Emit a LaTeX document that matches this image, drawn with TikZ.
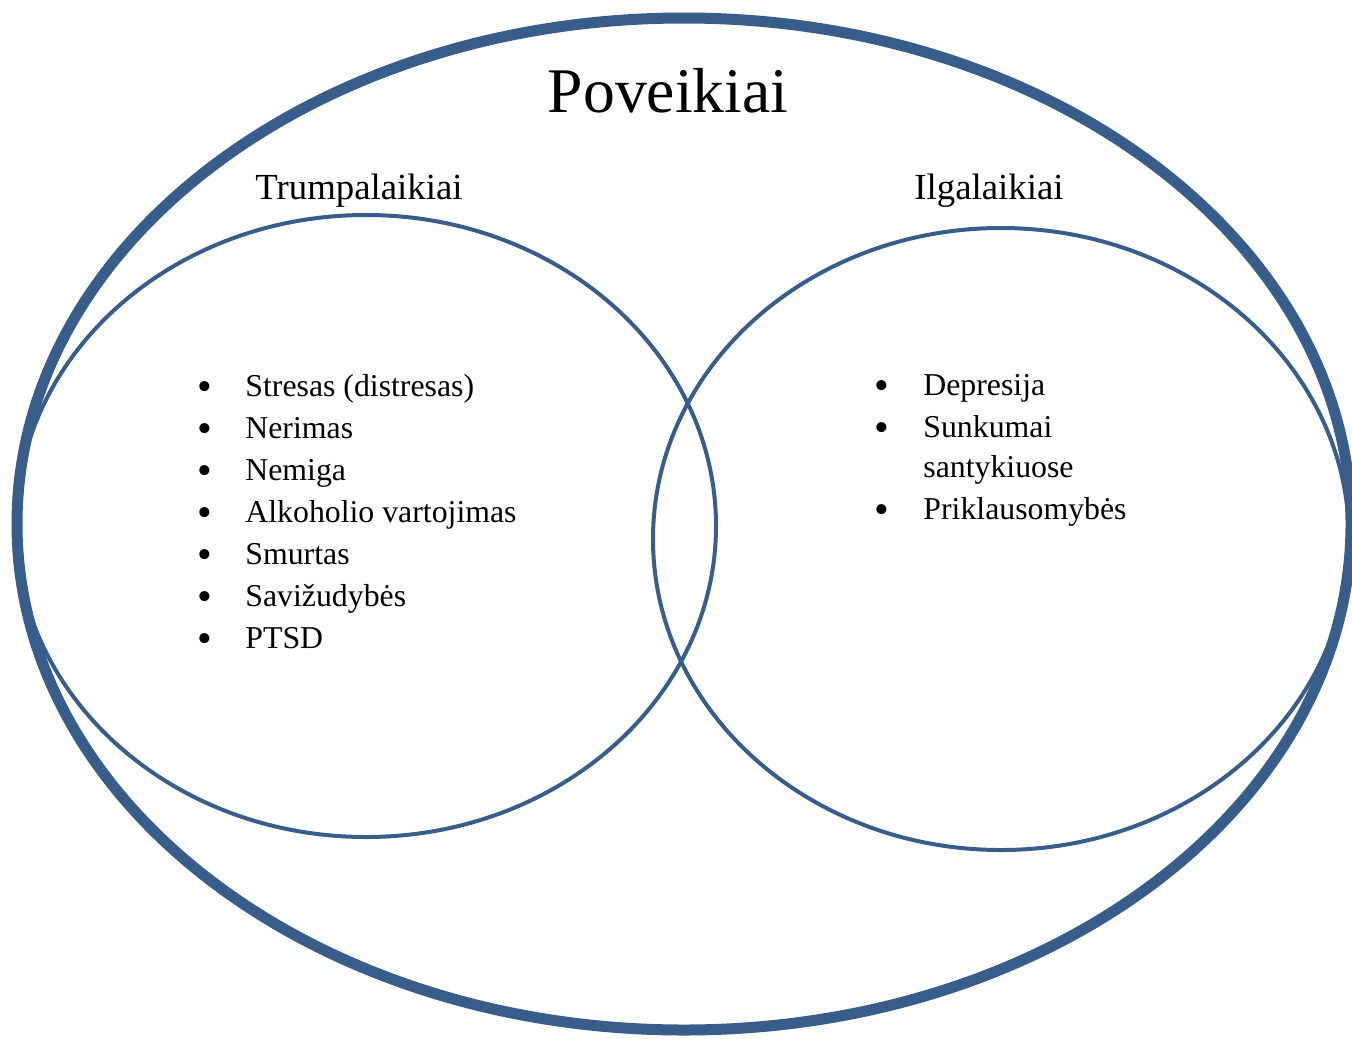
\documentclass[tikz,border=0pt]{standalone}
\usepackage{fontspec}
\setmainfont{Liberation Serif}
\usepackage{tikz}
\definecolor{vennblue}{RGB}{56,93,138}

\begin{document}
\begin{tikzpicture}
[x=0.5pt,y=-0.5pt,
 outer/.style={draw=vennblue,line width=5.5pt},
 inner/.style={draw=vennblue,line width=2pt},
 title/.style={font=\fontsize{31.8}{36}\selectfont,anchor=base},
 group/.style={font=\fontsize{18.4}{22}\selectfont,anchor=base},
 item/.style={font=\fontsize{15.9}{20}\selectfont,anchor=base west,inner sep=0pt},
 dot/.style={font=\fontsize{21}{24}\selectfont,anchor=base,inner sep=0pt}]
\useasboundingbox (0,0) rectangle (1352,1039);

\draw[outer] (684,524) ellipse [x radius=667, y radius=506];
\draw[inner] (366,526) ellipse [x radius=350, y radius=311];
\draw[inner] (1001,539) ellipse [x radius=348, y radius=311];

\node[title] (poveikiai) at (668,112) {Poveikiai};
\node[group] (trumpa) at (359,199) {Trumpalaikiai};
\node[group] (ilga) at (989,199) {Ilgalaikiai};

% trumpalaikiai
\foreach \txt [count=\i] in {{Stresas (distresas)},Nerimas,Nemiga,
  {Alkoholio vartojimas},Smurtas,Savižudybės,PTSD}
{
  \node[dot] (ld\i) at (205,{400+42*(\i-1)}) {•};
  \node[item] (lt\i) at (245,{396+42*(\i-1)}) {\txt};
}

% ilgalaikiai
\node[dot] (rd1) at (882,399) {•};
\node[item] (rt1) at (923,395) {Depresija};
\node[dot] (rd2) at (882,441) {•};
\node[item] (rt2) at (923,437) {Sunkumai};
\node[item] (rt2b) at (923,477) {santykiuose};
\node[dot] (rd3) at (882,523) {•};
\node[item] (rt3) at (923,519) {Priklausomybės};
\end{tikzpicture}
\end{document}
